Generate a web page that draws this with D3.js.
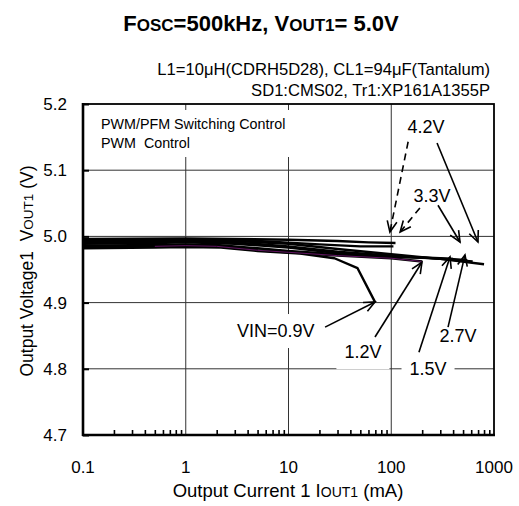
<!DOCTYPE html>
<html>
<head>
<meta charset="utf-8">
<script src="https://cdnjs.cloudflare.com/ajax/libs/d3/7.8.5/d3.min.js"></script>
<style>
  body { margin: 0; background: #fff; }
  svg text { font-family: "Liberation Sans", Arial, sans-serif; fill: #000; }
</style>
</head>
<body>
<svg id="chart" width="519" height="506"></svg>
<script>
// axis ticks
var xTicks = [0.1, 1, 10, 100, 1000];
var xTickLabels = ['0.1', '1', '10', '100', '1000'];
var yTicks = [4.7, 4.8, 4.9, 5.0, 5.1, 5.2];
var yTickLabels = ['4.7', '4.8', '4.9', '5.0', '5.1', '5.2'];

// curves, output current (mA) vs output voltage (V)
var vin09I = [0.1, 0.5, 1, 2.2, 5, 13, 28, 47, 70];
var vin09V = [4.982, 4.983, 4.984, 4.983, 4.978, 4.974, 4.967, 4.952, 4.900];
var vin12I = [0.1, 0.5, 1, 2, 5, 10, 30, 100, 200];
var vin12V = [4.984, 4.985, 4.986, 4.985, 4.979, 4.976, 4.971, 4.967, 4.962];
var vin15I = [0.1, 0.5, 1, 2, 5, 10, 30, 100, 400];
var vin15V = [4.986, 4.987, 4.988, 4.987, 4.982, 4.978, 4.973, 4.969, 4.966];
var vin27I = [0.1, 0.5, 1, 3, 10, 30, 100, 300, 550];
var vin27V = [4.989, 4.990, 4.991, 4.989, 4.983, 4.975, 4.970, 4.967, 4.964];
var vin33I = [0.1, 0.5, 1, 3, 10, 30, 100, 300, 620];
var vin33V = [4.991, 4.992, 4.993, 4.991, 4.985, 4.977, 4.971, 4.966, 4.962];
var vin42I = [0.1, 0.5, 1, 3, 10, 30, 100, 300, 800];
var vin42V = [4.993, 4.994, 4.995, 4.993, 4.989, 4.981, 4.973, 4.966, 4.958];
var vin33bI = [0.1, 1, 5, 20, 50, 105];
var vin33bV = [4.994, 4.995, 4.993, 4.988, 4.985, 4.985];
var vin42bI = [0.1, 1, 10, 30, 60, 110];
var vin42bV = [4.996, 4.997, 4.995, 4.993, 4.991, 4.990];

// labels and arrows
var noteText = ['4.2V', '4.2V', '3.3V', '3.3V', 'VIN=0.9V', '1.2V', '1.5V', '2.7V'];
var noteX = [218, 218, 249, 249, 7.5, 53, 228, 447];
var noteY = [5.156, 5.156, 5.052, 5.052, 4.848, 4.816, 4.791, 4.840];
var tailX = [279, 146, 285, 190, 22.7, 69.5, 186, 357];
var tailY = [5.141, 5.143, 5.047, 5.043, 4.863, 4.848, 4.825, 4.863];
var tipX = [698, 97, 467, 122, 69.5, 199, 373, 522];
var tipY = [4.9915, 5.0066, 4.9915, 5.0066, 4.901, 4.961, 4.969, 4.972];
var dashed = [false, true, false, true, false, false, false, false];

var svg = d3.select('#chart');
var pL = 83, pT = 104, pW = 411, pH = 331;

var x = d3.scaleLog().domain([0.1, 1000]).range([pL, pL + pW]);
var y = d3.scaleLinear().domain([4.7, 5.2]).range([pT + pH, pT]);

// grid
svg.append('g').selectAll('line')
  .data([1, 10, 100])
  .enter().append('line')
  .attr('x1', function(d) { return x(d); }).attr('x2', function(d) { return x(d); })
  .attr('y1', pT).attr('y2', pT + pH)
  .attr('stroke', '#333').attr('stroke-width', 1);
svg.append('g').selectAll('line')
  .data([4.8, 4.9, 5.0, 5.1])
  .enter().append('line')
  .attr('x1', pL).attr('x2', pL + pW)
  .attr('y1', function(d) { return y(d); }).attr('y2', function(d) { return y(d); })
  .attr('stroke', '#333').attr('stroke-width', 1);

// white boxes behind the notes, text drawn later on top
var boxes = svg.append('g');
boxes.append('rect').attr('x', 96).attr('y', 110).attr('width', 196).attr('height', 47).attr('fill', '#fff');

// curves
var line = d3.line()
  .x(function(d) { return x(d[0]); })
  .y(function(d) { return y(d[1]); });
var series = [
  [vin42bI, vin42bV], [vin33bI, vin33bV],
  [vin42I, vin42V], [vin33I, vin33V], [vin27I, vin27V],
  [vin15I, vin15V], [vin12I, vin12V], [vin09I, vin09V]
];
svg.append('g').selectAll('path')
  .data(series)
  .enter().append('path')
  .attr('d', function(s) { return line(d3.zip(s[0], s[1])); })
  .attr('fill', 'none')
  .attr('stroke', '#000')
  .attr('stroke-width', 2.4)
  .attr('stroke-linejoin', 'round');
svg.append('path')
  .attr('d', line(d3.zip(vin12I, vin12V).slice(1)))
  .attr('fill', 'none').attr('stroke', '#7a1a7a').attr('stroke-width', 0.8);

// note labels
var labels = svg.append('g');
var seen = {};
for (var j = 0; j < noteText.length; j++) {
  var key = noteText[j] + noteX[j];
  if (seen[key]) continue;
  seen[key] = true;
  var t = labels.append('text').attr('x', x(noteX[j])).attr('y', y(noteY[j]))
    .attr('font-size', 18).attr('text-anchor', 'middle').text(noteText[j]);
  var b = t.node().getBBox();
  boxes.append('rect')
    .attr('x', b.x - 8).attr('y', b.y - 7)
    .attr('width', b.width + 16).attr('height', b.height + 14)
    .attr('fill', '#fff');
}

// arrows
var arrows = svg.append('g');
for (var i = 0; i < noteText.length; i++) {
  var x1 = x(tailX[i]), y1 = y(tailY[i]), x2 = x(tipX[i]), y2 = y(tipY[i]);
  arrows.append('line')
    .attr('x1', x1).attr('y1', y1).attr('x2', x2).attr('y2', y2)
    .attr('stroke', '#000').attr('stroke-width', 1.6)
    .attr('stroke-dasharray', dashed[i] ? '7,5' : null);
  var a = Math.atan2(y2 - y1, x2 - x1), len = 12, sp = 0.42;
  arrows.append('path')
    .attr('d', 'M' + (x2 - len * Math.cos(a - sp)) + ',' + (y2 - len * Math.sin(a - sp)) +
      'L' + x2 + ',' + y2 +
      'L' + (x2 - len * Math.cos(a + sp)) + ',' + (y2 - len * Math.sin(a + sp)))
    .attr('fill', 'none').attr('stroke', '#000').attr('stroke-width', 1.6);
}

var pwm = svg.append('g');
pwm.append('text').attr('x', 101).attr('y', 129).attr('font-size', 14.3).text('PWM/PFM Switching Control');
pwm.append('text').attr('x', 101).attr('y', 148).attr('font-size', 14.3).attr('xml:space', 'preserve').text('PWM  Control');

// frame
svg.append('rect').attr('x', pL).attr('y', pT).attr('width', pW).attr('height', pH)
  .attr('fill', 'none').attr('stroke', '#000').attr('stroke-width', 1.8);
svg.append('line').attr('x1', pL).attr('x2', pL).attr('y1', pT - 1).attr('y2', pT + pH + 1)
  .attr('stroke', '#000').attr('stroke-width', 2.6);
svg.append('line').attr('x1', pL - 1).attr('x2', pL + pW + 1).attr('y1', pT + pH).attr('y2', pT + pH)
  .attr('stroke', '#000').attr('stroke-width', 2.6);

// bottom axis: inward minor ticks
var minor = [];
for (var d = 0.1; d < 999; d *= 10) {
  for (var k = 2; k <= 9; k++) minor.push(d * k);
}
var xAxis = d3.axisBottom(x).tickValues(minor).tickSize(-5).tickFormat('');
var gx = svg.append('g').attr('transform', 'translate(0,' + (pT + pH) + ')').call(xAxis);
gx.select('.domain').remove();
gx.selectAll('.tick line').attr('stroke', '#000').attr('stroke-width', 1.6);
svg.append('g').selectAll('text')
  .data(xTicks)
  .enter().append('text')
  .attr('x', function(d) { return x(d); })
  .attr('y', pT + pH + 38)
  .attr('text-anchor', 'middle')
  .attr('font-size', 17)
  .text(function(d, i) { return xTickLabels[i]; });

// left axis
var yAxis = d3.axisLeft(y).tickValues(yTicks).tickSize(-6).tickFormat(function(d, i) { return yTickLabels[i]; });
var gy = svg.append('g').attr('transform', 'translate(' + pL + ',0)').call(yAxis);
gy.select('.domain').remove();
gy.selectAll('.tick line').attr('stroke', '#000').attr('stroke-width', 2);
gy.selectAll('.tick text').attr('x', -16).attr('font-size', 17)
  .attr('font-family', '"Liberation Sans", Arial, sans-serif').attr('fill', '#000');

// titles
var title = svg.append('text').attr('x', 261).attr('y', 31).attr('text-anchor', 'middle')
  .attr('font-size', 22).attr('font-weight', 'bold');
title.append('tspan').text('F');
title.append('tspan').attr('font-size', 17).text('OSC');
title.append('tspan').text('=500kHz, V');
title.append('tspan').attr('font-size', 17).text('OUT1');
title.append('tspan').text('= 5.0V');

svg.append('text').attr('x', 490).attr('y', 75).attr('text-anchor', 'end').attr('font-size', 16.6)
  .text('L1=10\u03bcH(CDRH5D28), CL1=94\u03bcF(Tantalum)');
svg.append('text').attr('x', 490).attr('y', 96).attr('text-anchor', 'end').attr('font-size', 16.6)
  .text('SD1:CMS02, Tr1:XP161A1355P');

var xt = svg.append('text').attr('x', 288).attr('y', 497).attr('text-anchor', 'middle').attr('font-size', 18.5);
xt.append('tspan').text('Output Current 1 I');
xt.append('tspan').attr('font-size', 14).text('OUT1');
xt.append('tspan').text(' (mA)');

var yt = svg.append('text').attr('transform', 'translate(33,271) rotate(-90)')
  .attr('text-anchor', 'middle').attr('font-size', 17.5).attr('xml:space', 'preserve');
yt.append('tspan').text('Output Voltage1  V');
yt.append('tspan').attr('font-size', 13.5).text('OUT1');
yt.append('tspan').text(' (V)');
</script>
</body>
</html>
